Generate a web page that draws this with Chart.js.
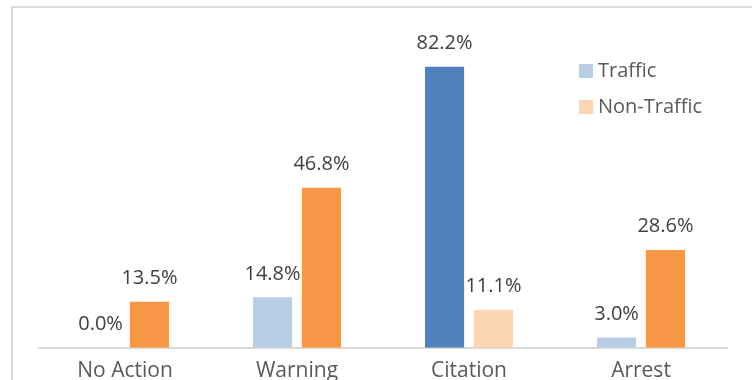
<!DOCTYPE html>
<html>
<head>
<meta charset="utf-8">
<script src="https://cdn.jsdelivr.net/npm/chart.js@4"></script>
<style>
  html, body { margin: 0; padding: 0; background: #fff; overflow: hidden; }
  #frame {
    position: absolute; left: 11px; top: 6px;
    width: 800px; height: 420px;
    border: 2px solid #d9d9d9;
  }
  #chart { position: absolute; left: 0; top: 0; }
</style>
</head>
<body>
<div id="frame"></div>
<canvas id="chart" width="752" height="400"></canvas>
<script>
const categories = ["No Action", "Warning", "Citation", "Arrest"];
const seriesNames = ["Traffic", "Non-Traffic"];
const trafficValues = [0.0, 14.8, 82.2, 3.0];
const nonTrafficValues = [13.5, 46.8, 11.1, 28.6];

const FONT = "'Open Sans', 'Liberation Sans', sans-serif";
const TEXT_GRAY = "#595959";
const LABEL_GRAY = "#404040";

// Citation is highlighted: darker traffic bar, paler non-traffic bar
const trafficFill = categories.map(c => c === "Citation" ? "#4f81bd" : "#b9cde5");
const nonTrafficFill = categories.map(c => c === "Citation" ? "#fcd5b5" : "#f79646");
const legendFill = ["#b9cde5", "#fcd5b5"];

// value labels above each bar
const barValueLabels = {
  id: "barValueLabels",
  afterDatasetsDraw(chart) {
    const ctx = chart.ctx;
    ctx.save();
    ctx.font = "20px " + FONT;
    ctx.fillStyle = LABEL_GRAY;
    ctx.textAlign = "center";
    ctx.textBaseline = "alphabetic";
    chart.data.datasets.forEach((ds, i) => {
      chart.getDatasetMeta(i).data.forEach((bar, j) => {
        ctx.fillText(ds.data[j].toFixed(1) + "%", bar.x, bar.y - 17.5);
      });
    });
    ctx.restore();
  }
};

// legend stacked in the upper right of the plot
const sideLegend = {
  id: "sideLegend",
  afterDraw(chart) {
    const ctx = chart.ctx;
    ctx.save();
    ctx.font = "20px " + FONT;
    ctx.textAlign = "left";
    ctx.textBaseline = "middle";
    chart.data.datasets.forEach((ds, i) => {
      const y = 71 + i * 36;
      ctx.fillStyle = legendFill[i];
      ctx.fillRect(579, y - 7, 14, 14);
      ctx.fillStyle = TEXT_GRAY;
      ctx.fillText(ds.label, 598, y);
    });
    ctx.restore();
  }
};

new Chart(document.getElementById("chart").getContext("2d"), {
  type: "bar",
  data: {
    labels: categories,
    datasets: [
      { label: seriesNames[0], data: trafficValues, backgroundColor: trafficFill },
      { label: seriesNames[1], data: nonTrafficValues, backgroundColor: nonTrafficFill }
    ]
  },
  options: {
    responsive: false,
    animation: false,
    categoryPercentage: 0.569,
    barPercentage: 0.8,
    layout: { padding: { left: 39, right: 25, top: 40, bottom: 5 } },
    plugins: {
      legend: { display: false },
      tooltip: { enabled: false }
    },
    scales: {
      x: {
        grid: { display: false, drawTicks: false },
        border: { display: true, color: "#d9d9d9", width: 2 },
        ticks: { color: TEXT_GRAY, font: { family: FONT, size: 21 }, padding: 11 }
      },
      y: {
        display: false,
        min: 0,
        max: 90
      }
    }
  },
  plugins: [barValueLabels, sideLegend]
});
</script>
</body>
</html>
